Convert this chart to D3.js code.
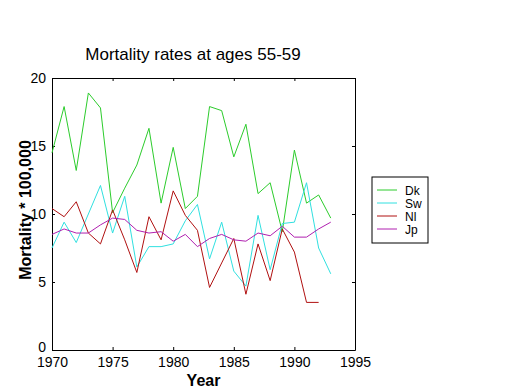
<!DOCTYPE html>
<html>
<head>
<meta charset="utf-8">
<script src="https://cdn.jsdelivr.net/npm/d3@7"></script>
<style>
  body { margin: 0; background: #fff; }
  svg { display: block; font-family: "Liberation Sans", Arial, sans-serif; }
  .axis path, .axis line { stroke: #000; }
  .axis text { font-size: 14px; fill: #000; }
</style>
</head>
<body>
<div id="app"></div>
<script>
// Data
const years = d3.range(1970, 1994);
const dk = [14.5, 17.9, 13.2, 18.9, 17.8, 10.1, 11.9, 13.6, 16.3, 10.8, 14.9, 10.4, 11.3, 17.9, 17.6, 14.2, 16.6, 11.5, 12.3, 8.7, 14.7, 10.8, 11.4, 9.7];
const sw = [7.5, 9.4, 7.9, 10.0, 12.1, 8.6, 11.3, 6.1, 7.6, 7.6, 7.8, 9.5, 10.7, 6.7, 9.4, 5.8, 4.7, 9.9, 5.9, 9.3, 9.4, 12.3, 7.5, 5.6];
const nl = [10.4, 9.8, 10.9, 8.6, 7.8, 10.3, 8.1, 5.7, 9.8, 8.1, 11.7, 9.9, 8.8, 4.6, 6.4, 8.2, 4.1, 7.8, 5.1, 8.9, 7.2, 3.5, 3.5];
const jp = [8.5, 8.9, 8.6, 8.6, 9.2, 9.7, 9.6, 8.8, 8.6, 8.7, 8.0, 8.5, 7.6, 8.2, 8.5, 8.1, 8.0, 8.6, 8.4, 9.1, 8.3, 8.3, 8.9, 9.4];
const seriesNames = ["Dk", "Sw", "Nl", "Jp"];
const xTicks = [1970, 1975, 1980, 1985, 1990, 1995];
const yTicks = [0, 5, 10, 15, 20];

const series = [dk, sw, nl, jp];
const colors = ["#2ccc2c", "#30e0e0", "#b01010", "#b020b0"];

const width = 520;
const height = 390;
const plotLeft = 52, plotRight = 355, plotTop = 78, plotBottom = 350;

const svg = d3.select("#app").append("svg")
  .attr("width", width)
  .attr("height", height);

const x = d3.scaleLinear().domain([1970, 1995]).range([plotLeft, plotRight]);
const y = d3.scaleLinear().domain([0, 20]).range([plotBottom, plotTop]);

// Axes (ticks point inward, box on all sides)
svg.append("g").attr("class", "axis")
  .attr("transform", `translate(0,${plotBottom})`)
  .call(d3.axisBottom(x).tickValues(xTicks).tickFormat(d3.format("d"))
    .tickSizeInner(-3).tickSizeOuter(0).tickPadding(7));

svg.append("g").attr("class", "axis")
  .attr("transform", `translate(0,${plotTop})`)
  .call(d3.axisTop(x).tickValues(xTicks).tickFormat("")
    .tickSizeInner(-3).tickSizeOuter(0));

const yAxisG = svg.append("g").attr("class", "axis")
  .attr("transform", `translate(${plotLeft},0)`)
  .call(d3.axisLeft(y).tickValues(yTicks)
    .tickSizeInner(-3).tickSizeOuter(0).tickPadding(6));

// lift the "0" a little so it clears the 1970 label
yAxisG.selectAll(".tick text").filter((d) => d === 0).attr("dy", "0.1em");

svg.append("g").attr("class", "axis")
  .attr("transform", `translate(${plotRight},0)`)
  .call(d3.axisRight(y).tickValues(yTicks).tickFormat("")
    .tickSizeInner(-3).tickSizeOuter(0));

// Lines
const line = d3.line()
  .x((d, i) => x(years[i]))
  .y((d) => y(d));

svg.selectAll(".series")
  .data(series)
  .enter()
  .append("path")
  .attr("class", "series")
  .attr("d", (d) => line(d))
  .attr("fill", "none")
  .attr("stroke", (d, i) => colors[i])
  .attr("stroke-width", 1);

// Title and axis labels
svg.append("text")
  .attr("x", 193)
  .attr("y", 60)
  .attr("text-anchor", "middle")
  .style("font-size", "17px")
  .text("Mortality rates at ages 55-59");

svg.append("text")
  .attr("x", (plotLeft + plotRight) / 2)
  .attr("y", 386)
  .attr("text-anchor", "middle")
  .style("font-size", "16px")
  .style("font-weight", "bold")
  .text("Year");

svg.append("text")
  .attr("transform", "translate(31,210) rotate(-90)")
  .attr("text-anchor", "middle")
  .style("font-size", "16px")
  .style("font-weight", "bold")
  .text("Mortality * 100,000");

// Legend
const legend = svg.append("g");
legend.append("rect")
  .attr("x", 372)
  .attr("y", 177)
  .attr("width", 56)
  .attr("height", 66)
  .attr("fill", "#fff")
  .attr("stroke", "#000");

const items = legend.selectAll(".item")
  .data(seriesNames)
  .enter()
  .append("g")
  .attr("transform", (d, i) => `translate(0,${190 + i * 13})`);

items.append("line")
  .attr("x1", 377)
  .attr("x2", 397)
  .attr("stroke", (d, i) => colors[i]);

items.append("text")
  .attr("x", 405)
  .attr("y", 4.5)
  .style("font-size", "12px")
  .text((d) => d);
</script>
</body>
</html>
